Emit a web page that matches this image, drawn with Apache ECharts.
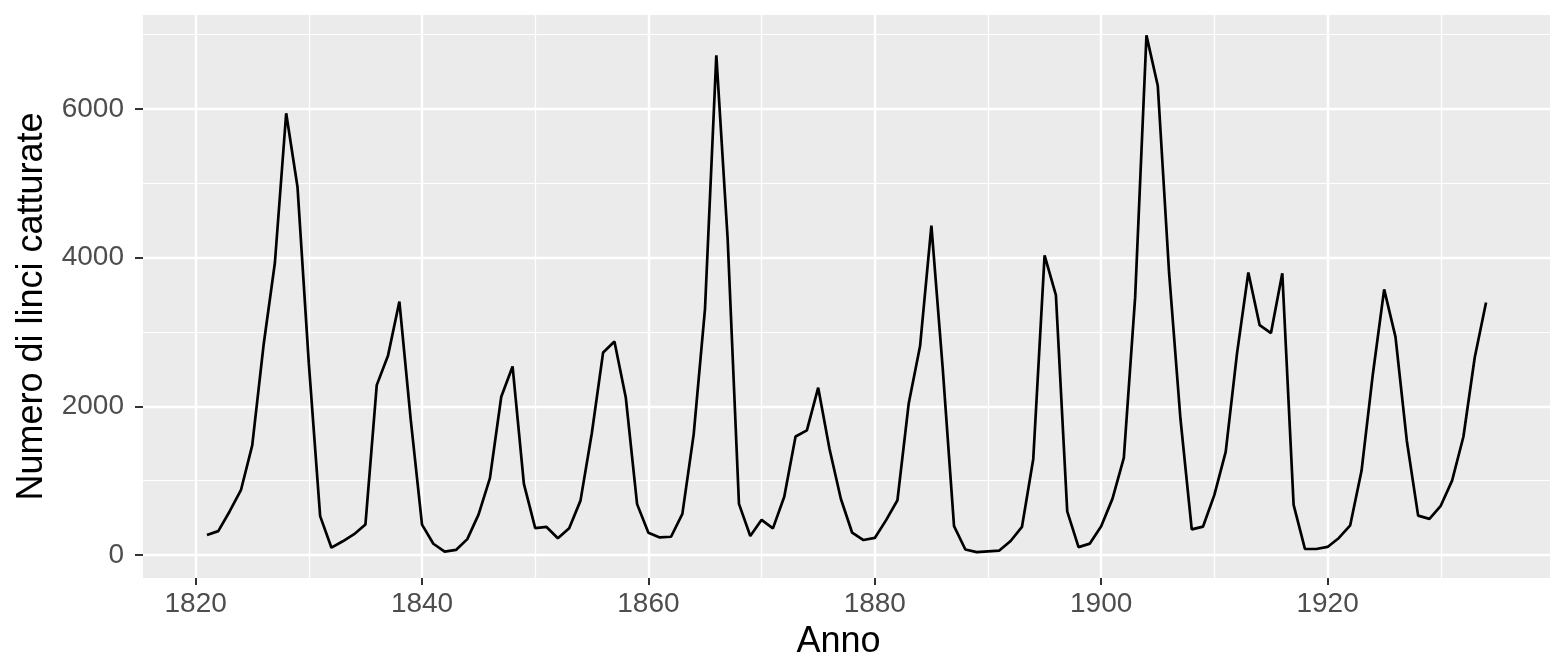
<!DOCTYPE html>
<html>
<head>
<meta charset="utf-8">
<script src="https://cdn.jsdelivr.net/npm/echarts@6/dist/echarts.min.js"></script>
<style>
  html, body { margin: 0; padding: 0; background: #fff; }
  #chart { width: 1568px; height: 672px; }
</style>
</head>
<body>
<div id="chart"></div>
<script>
// lynx trappings, 1821-1934
const firstYear = 1821;
const catches = [269, 321, 585, 871, 1475, 2821, 3928, 5943, 4950, 2577, 523, 98, 184, 279, 409, 2285,
  2685, 3409, 1824, 409, 151, 45, 68, 213, 546, 1033, 2129, 2536, 957, 361, 377, 225, 360, 731, 1638,
  2725, 2871, 2119, 684, 299, 236, 245, 552, 1623, 3311, 6721, 4254, 687, 255, 473, 358, 784, 1594,
  1676, 2251, 1426, 756, 299, 201, 229, 469, 736, 2042, 2811, 4431, 2511, 389, 73, 39, 49, 59, 188,
  377, 1292, 4031, 3495, 587, 105, 153, 387, 758, 1307, 3465, 6991, 6313, 3794, 1836, 345, 382, 808,
  1388, 2713, 3800, 3091, 2985, 3790, 674, 81, 80, 108, 229, 399, 1132, 2432, 3574, 2935, 1537, 529,
  485, 662, 1000, 1590, 2657, 3396];
const xMajor = [1820, 1840, 1860, 1880, 1900, 1920];
const xMinor = [1830, 1850, 1870, 1890, 1910, 1930];
const yMajor = [0, 2000, 4000, 6000];
const yMinor = [1000, 3000, 5000, 7000];

const points = catches.map((v, i) => [firstYear + i, v]);

const xMin = 1815.35, xMax = 1939.65;
const yMin = -310, yMax = 7265;

const chart = echarts.init(document.getElementById('chart'));

const fontFam = 'Liberation Sans, Arial, sans-serif';
const plain = (v) => String(v);

let option = {
    backgroundColor: '#ffffff',
    animation: false,
    grid: {
        left: 143, right: 18, top: 15, bottom: 94,
        show: true,
        backgroundColor: '#ebebeb',
        borderWidth: 0
    },
    xAxis: [{
        type: 'value',
        min: xMin, max: xMax,
        name: 'Anno',
        nameLocation: 'middle',
        nameGap: 46,
        nameTextStyle: { color: '#000', fontSize: 36, fontFamily: fontFam, padding: [0, 16, 0, 0] },
        axisLine: { show: false, onZero: false },
        axisTick: { show: true, length: 7, lineStyle: { color: '#333', width: 2 }, customValues: xMajor },
        axisLabel: { color: '#4d4d4d', fontSize: 28, fontFamily: fontFam, margin: 12, formatter: plain, customValues: xMajor },
        splitLine: { show: true, lineStyle: { color: '#fff', width: 2.4 } }
    }, {
        type: 'value',
        min: xMin, max: xMax,
        position: 'bottom',
        axisLine: { show: false, onZero: false },
        axisTick: { show: false, customValues: xMinor },
        axisLabel: { show: false, customValues: xMinor },
        splitLine: { show: true, lineStyle: { color: '#fff', width: 1.2 } }
    }],
    yAxis: [{
        type: 'value',
        min: yMin, max: yMax,
        name: 'Numero di linci catturate',
        nameLocation: 'middle',
        nameGap: 93,
        nameTextStyle: { color: '#000', fontSize: 36, fontFamily: fontFam, padding: [0, 20, 0, 0] },
        axisLine: { show: false, onZero: false },
        axisTick: { show: true, length: 8, lineStyle: { color: '#333', width: 2 }, customValues: yMajor },
        axisLabel: { color: '#4d4d4d', fontSize: 28, fontFamily: fontFam, margin: 19, formatter: plain, customValues: yMajor },
        splitLine: { show: true, lineStyle: { color: '#fff', width: 2.4 } }
    }, {
        type: 'value',
        min: yMin, max: yMax,
        position: 'left',
        axisLine: { show: false, onZero: false },
        axisTick: { show: false, customValues: yMinor },
        axisLabel: { show: false, customValues: yMinor },
        splitLine: { show: true, lineStyle: { color: '#fff', width: 1.2 } }
    }],
    series: [{
        type: 'line',
        data: points,
        showSymbol: false,
        symbol: 'none',
        lineStyle: { color: '#000', width: 2.7 },
        z: 5
    }]
};

chart.setOption(option);

window.addEventListener('resize', function () {
    chart.resize();
});
</script>
</body>
</html>
